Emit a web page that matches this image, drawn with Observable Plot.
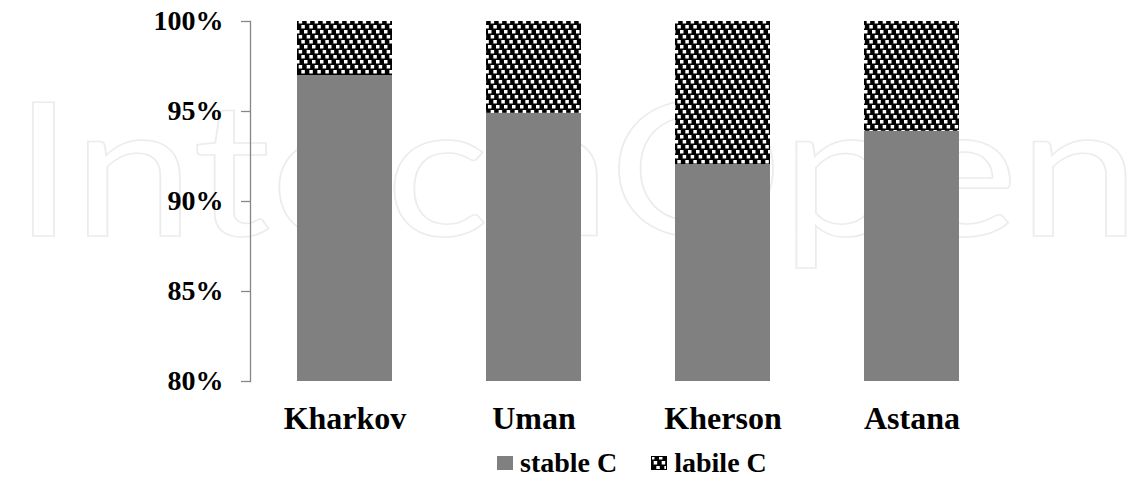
<!DOCTYPE html>
<html>
<head>
<meta charset="utf-8">
<script src="https://cdn.jsdelivr.net/npm/d3@7"></script>
<script src="https://cdn.jsdelivr.net/npm/@observablehq/plot@0.6"></script>
<style>
  body { margin: 0; background: #fff; }
  #wrap { position: relative; width: 1145px; height: 480px; overflow: hidden; }
  #wm { position: absolute; left: 0; top: 0; }
  #chart { position: absolute; left: 0; top: 0; }
  #legend { position: absolute; left: 497px; top: 440px; height: 40px; display: flex; align-items: center;
            font-family: "Liberation Serif", "Times New Roman", Times, "Nimbus Roman", "DejaVu Serif", serif; font-weight: bold; font-size: 28px; color: #000; padding-top: 6px; box-sizing: border-box; }
  .item { display: flex; align-items: center; margin-right: 34px; }
  .sw { width: 16px; height: 14px; margin-right: 7px; }
</style>
</head>
<body>
<svg width="0" height="0" style="position:absolute">
  <defs>
    <pattern id="labile" patternUnits="userSpaceOnUse" width="8" height="15">
      <rect width="8" height="15" fill="#000"/>
      <rect x="0" y="0" width="3.5" height="3.5" fill="#fff"/>
      <rect x="2.67" y="5" width="3.5" height="3.5" fill="#fff"/>
      <rect x="5.33" y="10" width="3.5" height="3.5" fill="#fff"/>
      <rect x="-2.67" y="10" width="3.5" height="3.5" fill="#fff"/>
    </pattern>
  </defs>
</svg>
<div id="wrap">
  <svg id="wm" width="1145" height="480">
    <text x="13" y="236" textLength="1127" lengthAdjust="spacingAndGlyphs"
      style="font-family: Lato, 'Open Sans', sans-serif; font-weight: 400; font-size: 186px; fill: #fff; stroke: #ececec; stroke-width: 1.5;">IntechOpen</text>
  </svg>
  <div id="chart"></div>
  <div id="legend">
    <div class="item"><svg class="sw" width="16" height="14"><rect width="16" height="14" fill="#808080"/></svg>stable C</div>
    <div class="item"><svg class="sw" width="16" height="14"><rect x="0.5" y="0.5" width="15" height="13" fill="url(#labile)" stroke="#000"/></svg>labile C</div>
  </div>
</div>
<script>
const sites = ["Kharkov", "Uman", "Kherson", "Astana"];
const stableC = [97.0, 94.9, 92.05, 93.9];
const labileC = [3.0, 5.1, 7.95, 6.1];
const yTicks = [80, 85, 90, 95, 100];

const rows = sites.map((s, i) => ({site: s, stable: stableC[i], labile: labileC[i]}));

const serif = '"Liberation Serif", "Times New Roman", Times, "Nimbus Roman", "DejaVu Serif", serif';

const chart = Plot.plot({
  width: 1145,
  height: 440,
  marginLeft: 250,
  marginRight: 139,
  marginTop: 21,
  marginBottom: 59,
  style: {background: "transparent", fontFamily: serif, color: "#000", overflow: "visible"},
  x: {domain: sites, paddingInner: 0.5, paddingOuter: 0.25, axis: null},
  y: {domain: [yTicks[0], yTicks[yTicks.length - 1]], axis: null},
  marks: [
    Plot.barY(rows, {x: "site", y: "stable", fill: "#808080", clip: true}),
    Plot.barY(rows, {x: "site", y1: "stable", y2: d => d.stable + d.labile, fill: "url(#labile)"}),
    Plot.frame({anchor: "left", stroke: "#868686", strokeWidth: 1.3}),
    Plot.axisY({ticks: yTicks, tickFormat: d => d + "%", tickSize: 9, tickPadding: 18, stroke: "#868686", strokeWidth: 1.3, fill: "#000", fontSize: 28, fontWeight: "bold", fontFamily: serif, label: null}),
    Plot.axisX({tickSize: 0, tickPadding: 25, fill: "#000", fontSize: 32, fontWeight: "bold", fontFamily: serif, label: null})
  ]
});
document.getElementById("chart").appendChild(chart);
</script>
</body>
</html>
